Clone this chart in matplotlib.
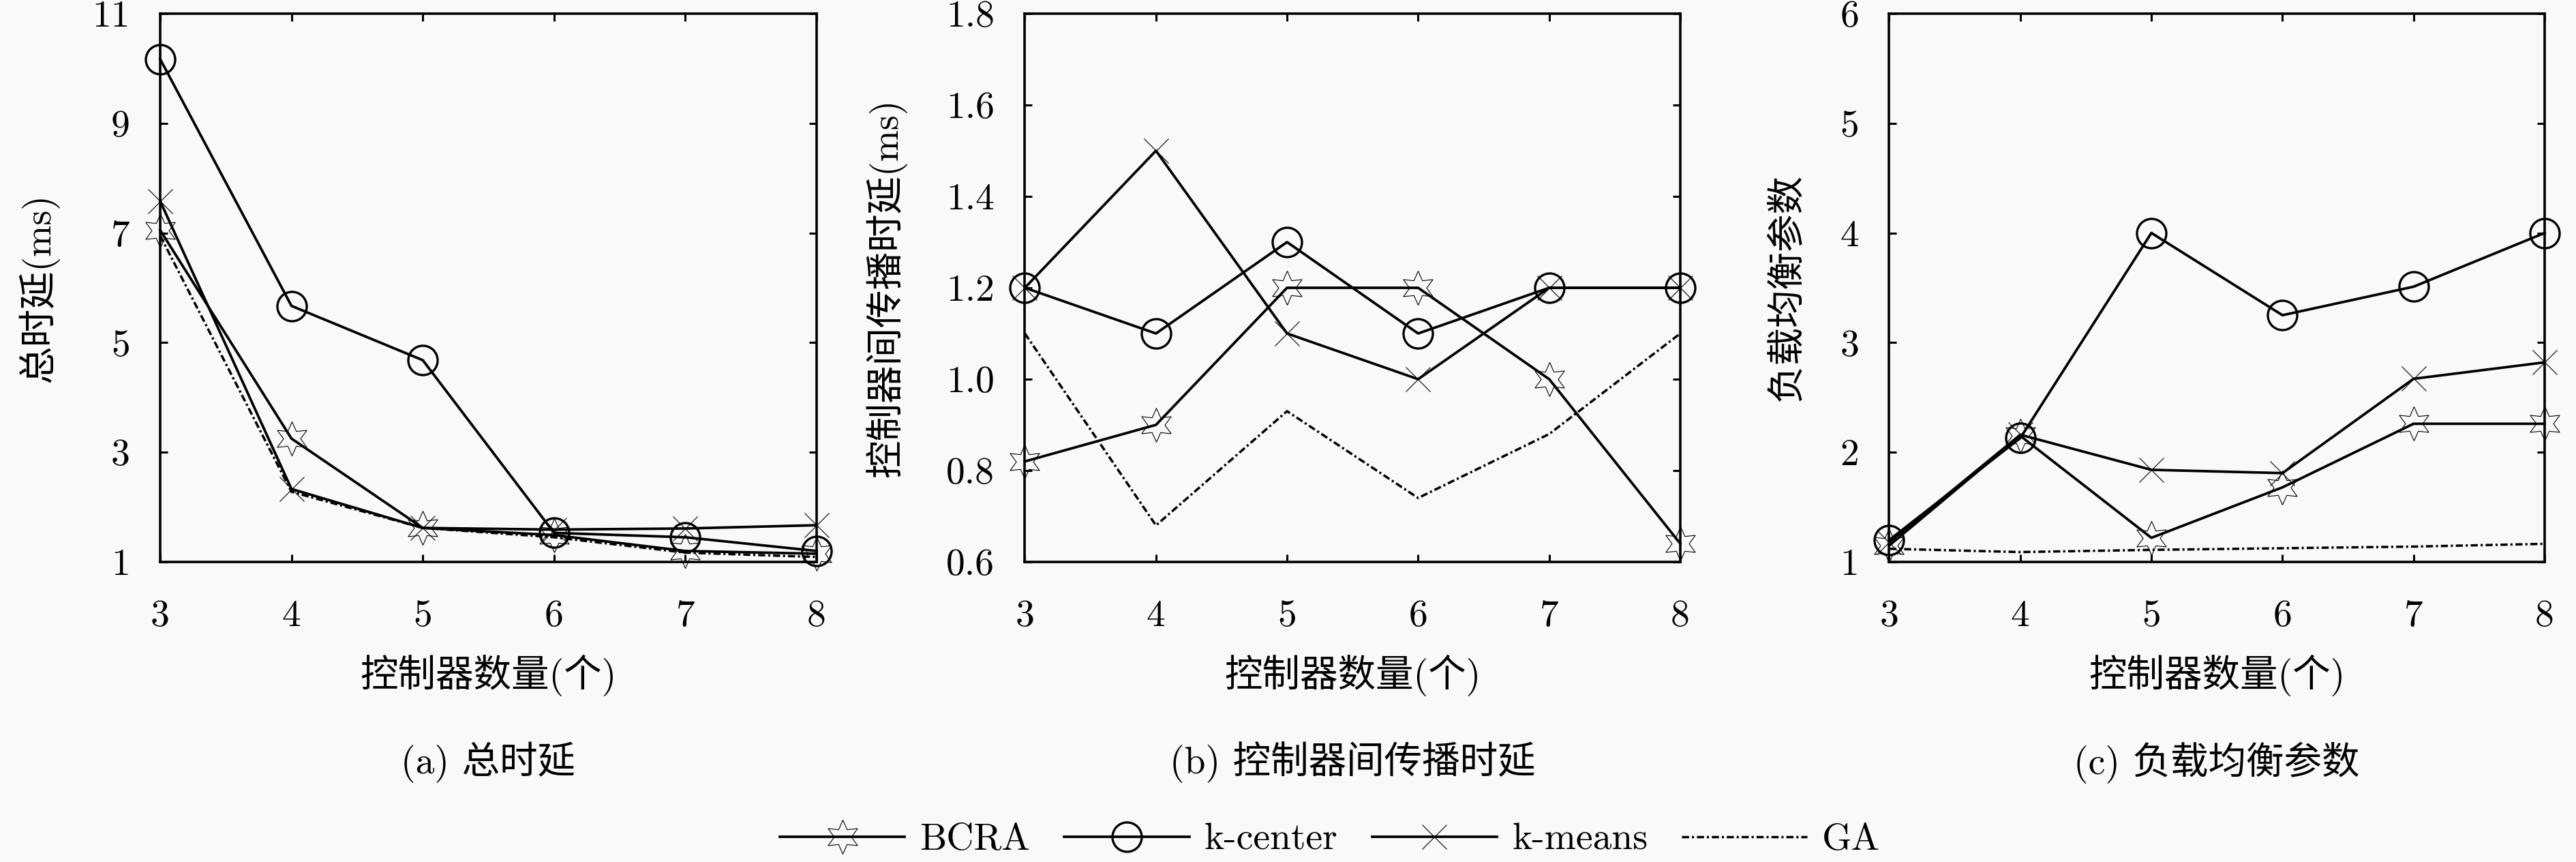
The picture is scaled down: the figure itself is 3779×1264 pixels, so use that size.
import matplotlib
matplotlib.use("Agg")
import matplotlib.pyplot as plt

plt.rcParams['font.family'] = ['cmr10', 'Noto Sans CJK SC', 'DejaVu Sans']
plt.rcParams['axes.unicode_minus'] = False
plt.rcParams['axes.formatter.use_mathtext'] = True

# ---------------- data ----------------
controllers = [3, 4, 5, 6, 7, 8]
series_names = ["BCRA", "k-center", "k-means", "GA"]

# (a) total delay (ms)
a_bcra = [7.05, 3.25, 1.62, 1.49, 1.20, 1.15]
a_kcenter = [10.17, 5.67, 4.68, 1.53, 1.45, 1.20]
a_kmeans = [7.58, 2.33, 1.62, 1.59, 1.61, 1.67]
a_ga = [6.95, 2.28, 1.62, 1.45, 1.17, 1.09]

# (b) inter-controller propagation delay (ms)
b_bcra = [0.82, 0.90, 1.20, 1.20, 1.00, 0.64]
b_kcenter = [1.20, 1.10, 1.30, 1.10, 1.20, 1.20]
b_kmeans = [1.20, 1.50, 1.10, 1.00, 1.20, 1.20]
b_ga = [1.10, 0.68, 0.93, 0.74, 0.88, 1.10]

# (c) load balance parameter
c_bcra = [1.15, 2.15, 1.22, 1.68, 2.26, 2.26]
c_kcenter = [1.20, 2.13, 4.00, 3.25, 3.51, 4.00]
c_kmeans = [1.18, 2.16, 1.84, 1.81, 2.67, 2.82]
c_ga = [1.12, 1.09, 1.11, 1.125, 1.14, 1.165]

a_yticks = [1, 3, 5, 7, 9, 11]
b_yticks = [0.6, 0.8, 1.0, 1.2, 1.4, 1.6, 1.8]
c_yticks = [1, 2, 3, 4, 5, 6]
a_yticklabels = ["1", "3", "5", "7", "9", "11"]
b_yticklabels = ["0.6", "0.8", "1.0", "1.2", "1.4", "1.6", "1.8"]
c_yticklabels = ["1", "2", "3", "4", "5", "6"]

xlabel = "控制器数量(个)"
ylabels = ["总时延(ms)", "控制器间传播时延(ms)", "负载均衡参数"]
captions = ["(a) 总时延", "(b) 控制器间传播时延", "(c) 负载均衡参数"]

# ---------------- styles ----------------
FS = 40
LW = 2.7
styles = {
    "BCRA": dict(color='black', lw=LW, linestyle='-', marker=(6, 1, 0), markersize=36,
                 markerfacecolor='none', markeredgewidth=0.8, markeredgecolor='black'),
    "k-center": dict(color='black', lw=LW, linestyle='-', marker='o', markersize=31,
                     markerfacecolor='none', markeredgewidth=2.4, markeredgecolor='black'),
    "k-means": dict(color='black', lw=LW, linestyle='-', marker='x', markersize=26,
                    markeredgewidth=0.8, markeredgecolor='black'),
    "GA": dict(color='black', lw=2.5, linestyle=(0, (3.0, 1.2, 0.9, 1.2)), marker=None),
}

W, H = 3780, 1264
fig = plt.figure(figsize=(W / 100, H / 100), dpi=100, facecolor='#f9f9f9')

ax_lefts = [235, 1503.5, 2771.5]
ax_widths = [963, 961.5, 961.5]
ax_top, ax_bottom = 20, 824
ylabel_x = [56, 1300, 2622]

panels = [
    ([a_bcra, a_kcenter, a_kmeans, a_ga], (1, 11), a_yticks, a_yticklabels),
    ([b_bcra, b_kcenter, b_kmeans, b_ga], (0.6, 1.8), b_yticks, b_yticklabels),
    ([c_bcra, c_kcenter, c_kmeans, c_ga], (1, 6), c_yticks, c_yticklabels),
]

handles = None
for i, (series, ylim, yt, ytl) in enumerate(panels):
    l = ax_lefts[i] / W
    w = ax_widths[i] / W
    b = 1 - ax_bottom / H
    h = (ax_bottom - ax_top) / H
    ax = fig.add_axes([l, b, w, h])
    ax.set_facecolor('#f9f9f9')
    hs = []
    for name, vals in zip(series_names, series):
        ln, = ax.plot(controllers, vals, label=name, clip_on=False, **styles[name])
        hs.append(ln)
    if handles is None:
        handles = hs
    ax.set_xlim(3, 8)
    ax.set_ylim(*ylim)
    ax.set_xticks(controllers)
    ax.set_xticklabels([str(c) for c in controllers])
    ax.set_yticks(yt)
    ax.set_yticklabels(ytl)
    for s in ax.spines.values():
        s.set_linewidth(2.6)
    ax.tick_params(direction='in', top=True, right=True, length=8, width=2.2,
                   labelsize=FS)
    ax.tick_params(axis='y', pad=32)
    ax.tick_params(axis='x', pad=40)
    ax.set_xlabel(xlabel, fontsize=FS)
    ax.xaxis.set_label_coords(0.5, -(990 - ax_bottom) / (ax_bottom - ax_top))
    ax.xaxis.label.set_va('center')
    ax.set_ylabel(ylabels[i], fontsize=FS)
    ax.yaxis.set_label_coords((ylabel_x[i] - ax_lefts[i]) / ax_widths[i], 0.5)
    ax.yaxis.label.set_va('center')
    fig.text((ax_lefts[i] + ax_widths[i] / 2) / W, 1 - 1118 / H, captions[i],
             ha='center', va='center', fontsize=FS)

fig.legend(handles, series_names, loc='center', bbox_to_anchor=(1951 / W, 1 - 1232 / H),
           ncol=4, frameon=False, fontsize=FS, handlelength=3.3, handletextpad=0.4,
           columnspacing=0.9)

fig.savefig("out.png", dpi=100, facecolor=fig.get_facecolor())
